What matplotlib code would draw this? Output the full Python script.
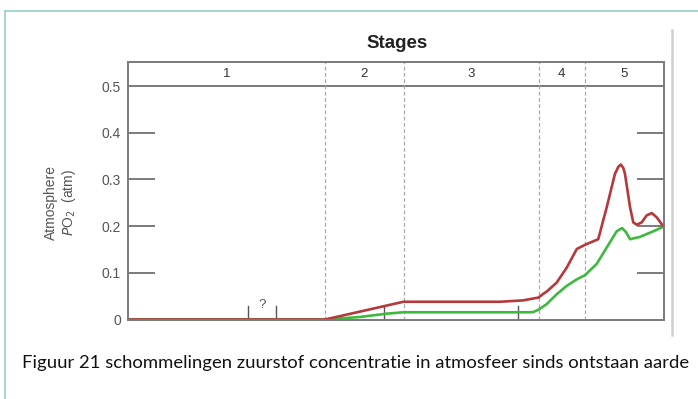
import numpy as np
import matplotlib
matplotlib.use("Agg")
import matplotlib.pyplot as plt
from matplotlib.lines import Line2D

# Stage boundaries (billions of years ago)
stage_bounds = [3.85, 2.45, 1.85, 0.85, 0.54, 0.0]
stage_labels = ["1", "2", "3", "4", "5"]
# display width (relative) of each stage from oldest to youngest
stage_widths = [197.0, 78.5, 135.0, 46.5, 78.5]

# Upper estimate of atmospheric O2 (atm)
red_age = [3.85, 2.45, 1.85, 1.31, 1.135, 0.963, 0.889, 0.85, 0.818, 0.795,
           0.729, 0.662, 0.595, 0.54, 0.449, 0.391, 0.334, 0.311, 0.294,
           0.277, 0.265, 0.23, 0.208, 0.184, 0.15, 0.116, 0.081, 0.047, 0.0]
red_po2 = [0.0, 0.0, 0.038, 0.038, 0.038, 0.041, 0.045, 0.047, 0.055, 0.060,
           0.079, 0.111, 0.151, 0.160, 0.172, 0.240, 0.312, 0.327, 0.332,
           0.325, 0.312, 0.240, 0.208, 0.203, 0.208, 0.223, 0.228, 0.219, 0.199]

# Lower estimate of atmospheric O2 (atm)
green_age = [3.85, 2.45, 2.32, 2.183, 1.978, 1.85, 0.913, 0.889, 0.85,
             0.795, 0.729, 0.662, 0.595, 0.54, 0.46, 0.391, 0.322, 0.285,
             0.258, 0.23, 0.162, 0.07, 0.0]
green_po2 = [0.0, 0.0, 0.0025, 0.0054, 0.0125, 0.0155, 0.0155, 0.016, 0.021,
             0.033, 0.054, 0.072, 0.086, 0.095, 0.119, 0.154, 0.189, 0.196,
             0.187, 0.172, 0.177, 0.189, 0.199]

y_ticks = [0.0, 0.1, 0.2, 0.3, 0.4, 0.5]
y_tick_labels = ["0", "0.1", "0.2", "0.3", "0.4", "0.5"]
marker_ticks = [3.0, 2.8, 2.0, 1.0]

caption = "Figuur 21 schommelingen zuurstof concentratie in atmosfeer sinds ontstaan aarde"

W, H, DPI = 698, 399, 100
fig = plt.figure(figsize=(W / DPI, H / DPI), dpi=DPI)
fig.patch.set_facecolor("white")

def fx(px):
    return px / W

def fy(py):
    return 1 - py / H

# Axes occupying the plotting region (including the stage band on top)
left_px, right_px, top_px, bot_px = 128, 663.5, 62, 319.5
ax = fig.add_axes([fx(left_px), fy(bot_px), fx(right_px - left_px),
                   (bot_px - top_px) / H])

# piecewise-linear scale so each stage gets its own width
ages_asc = np.array(stage_bounds[::-1])
pos_asc = np.concatenate([[0.0], np.cumsum(stage_widths[::-1])])

def fwd(x):
    return np.interp(x, ages_asc, pos_asc)

def inv(p):
    return np.interp(p, pos_asc, ages_asc)

ax.set_xscale("function", functions=(fwd, inv))
ax.set_xlim(3.85, 0.0)
ylim_top = 0.5 + (86 - top_px) / 465.0
ax.set_ylim(0, ylim_top)

gray = "#7a7a7a"
for s in ax.spines.values():
    s.set_color(gray)
    s.set_linewidth(1.4)

ax.set_xticks([])
ax.set_yticks(y_ticks)
ax.set_yticklabels(y_tick_labels, fontsize=10, color="#555555",
                   family="Liberation Sans")
ax.tick_params(axis="y", length=0, pad=5)

# inward tick marks on both sides
for v in y_ticks[1:5]:
    ax.plot([0, 0.05], [v, v], transform=ax.get_yaxis_transform(),
            color=gray, lw=1.4, solid_capstyle="butt", clip_on=False)
    ax.plot([0.95, 1.0], [v, v], transform=ax.get_yaxis_transform(),
            color=gray, lw=1.4, solid_capstyle="butt", clip_on=False)

# band separator at 0.5
ax.axhline(0.5, color=gray, lw=1.4)

# stage boundaries
for b in stage_bounds[1:-1]:
    ax.axvline(b, color="#a8a8a8", lw=0.9, ls=(0, (3, 2)))

# stage numbers
for i, lab in enumerate(stage_labels):
    mid = inv((fwd(stage_bounds[i]) + fwd(stage_bounds[i + 1])) / 2)
    ax.text(mid, 0.5 + (ylim_top - 0.5) / 2, lab, ha="center", va="center",
            fontsize=9.5, color="#333333", family="Liberation Sans")

# small markers on the bottom axis
for t in marker_ticks:
    ax.plot([t, t], [0, 13 / 465.0], color="#555555", lw=1.0)
ax.text(2.9, 0.019, "?", ha="center", va="bottom", fontsize=9.5,
        color="#555555", family="Liberation Sans")

ax.plot(green_age, green_po2, color="#3dba3d", lw=1.9,
        solid_joinstyle="round", solid_capstyle="round")
ax.plot(red_age, red_po2, color="#b5383a", lw=1.9,
        solid_joinstyle="round", solid_capstyle="round")

# titles and labels
fig.text(fx(397), fy(44), "Stages", ha="center", va="center", fontsize=13.5,
         fontweight="bold", color="#222222", family="Liberation Sans")
fig.text(fx(51), fy(202), "Atmosphere", rotation=90, ha="center",
         va="center", fontsize=10, color="#555555", family="Liberation Sans")
fig.text(fx(69), fy(202), r"$P$O$_2$  (atm)", rotation=90, ha="center",
         va="center", fontsize=10, color="#555555", family="Liberation Sans")

fig.text(fx(22), fy(363), caption, ha="left", va="center", fontsize=13.3,
         color="#111111", family="Lato")

# page frame lines
fig.add_artist(Line2D([fx(5), fx(698)], [fy(11), fy(11)], color="#a9d6d3",
                      lw=1.5))
fig.add_artist(Line2D([fx(5), fx(5)], [fy(11), fy(399)], color="#a9d6d3",
                      lw=1.5))
fig.add_artist(Line2D([fx(672), fx(672)], [fy(30), fy(335)], color="#cfcfcf",
                      lw=1.8))

fig.savefig("out.png", dpi=DPI)
